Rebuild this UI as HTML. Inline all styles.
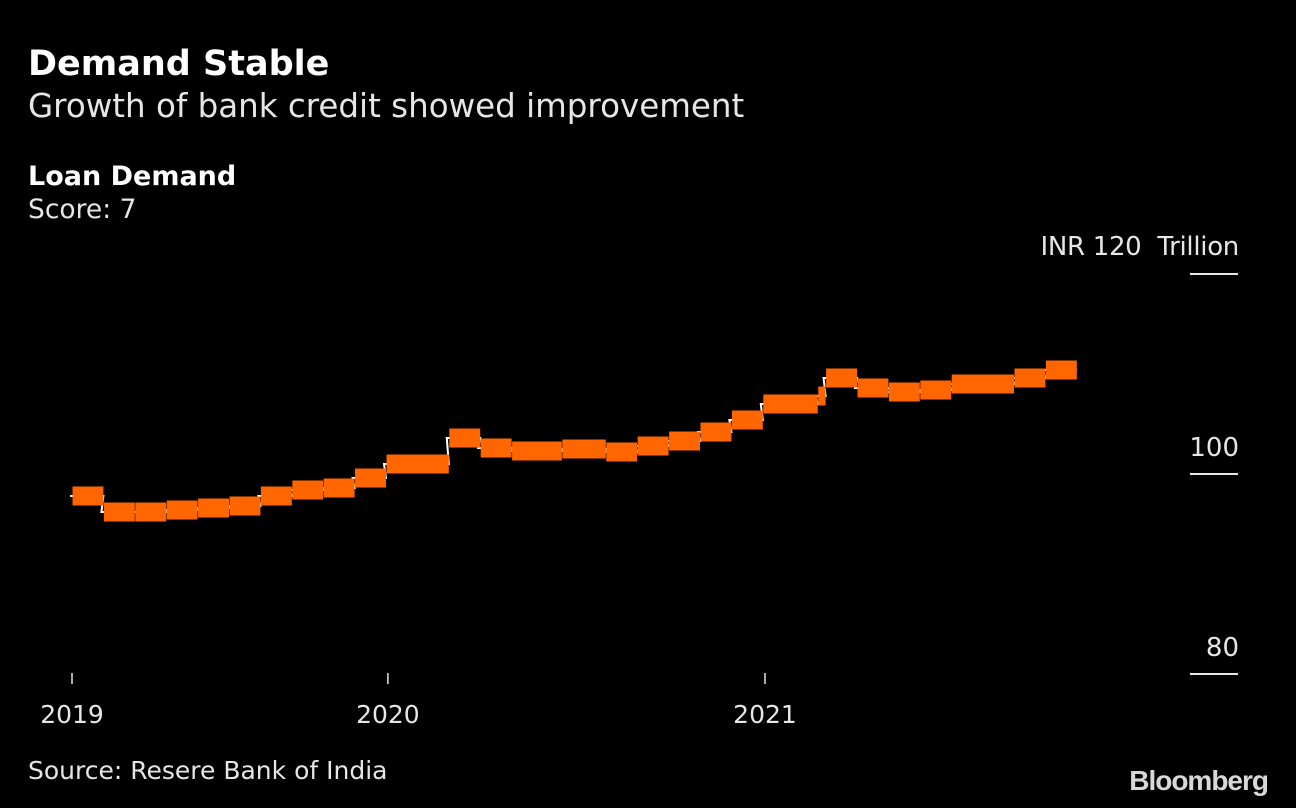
<!DOCTYPE html>
<html><head><meta charset="utf-8"><style>
html,body{margin:0;padding:0;background:#000;}
svg{display:block;}
text{font-family:"DejaVu Sans","Liberation Sans",sans-serif;fill:#e6e6e6;}
</style></head><body>
<svg id="chart" width="1296" height="808" viewBox="0 0 1296 808">
<rect width="1296" height="808" fill="#000"/>
<text x="28" y="75" font-size="35" font-weight="bold" style="fill:#fff">Demand Stable</text>
<text x="28" y="117" font-size="32.5">Growth of bank credit showed improvement</text>
<text x="28" y="185" font-size="27" font-weight="bold" style="fill:#fff">Loan Demand</text>
<text x="28" y="218" font-size="26.5">Score: 7</text>
<text x="1239" y="255" font-size="26" text-anchor="end" style="letter-spacing:-0.3px;white-space:pre">INR 120  Trillion</text>
<g id="yaxis"></g>
<g id="xaxis"></g>
<g id="series"></g>
<text x="28" y="779" font-size="25">Source: Resere Bank of India</text>
<text x="1268" y="790" font-size="28" font-weight="bold" text-anchor="end" style="fill:#d8d8d8;letter-spacing:-1px;font-family:'Liberation Sans',sans-serif">Bloomberg</text>
</svg>
<script>
const starts = [0,1,2,3,4,5,6,7,8,9,10,12,13,14,15.6,17,18,19,20,21,22,23.75,24,25,26,27,28,30,31];
const values = [97.8,96.2,96.2,96.4,96.6,96.8,97.8,98.4,98.6,99.6,101.0,103.6,102.6,102.3,102.5,102.2,102.8,103.3,104.2,105.4,107.0,107.8,109.6,108.6,108.2,108.4,109.0,109.6,110.4];
const lastEnd = 32;
const yTicks = [80,100,120];
const yTickLabels = ["80","100",""];
const xTicks = [0,10.06,22.07];
const xTickLabels = ["2019","2020","2021"];

const NS = "http://www.w3.org/2000/svg";
const x = m => 72 + m * 31.4;
const y = v => 474 - (v - 100) * 10;
function mk(tag, attrs, parent){const e=document.createElementNS(NS,tag);for(const k in attrs)e.setAttribute(k,attrs[k]);parent.appendChild(e);return e;}

const ya = document.getElementById('yaxis');
yTicks.forEach((t,i)=>{
  const l = mk('line',{x1:1190,x2:1238,y1:y(t),y2:y(t),stroke:'#e6e6e6','stroke-width':2},ya);
  
  
  if(yTickLabels[i]){
    const tx = mk('text',{x:1239,y:y(t)-18,'font-size':26,'text-anchor':'end'},ya);
    tx.textContent = yTickLabels[i];
    
    
  }
});
const xa = document.getElementById('xaxis');
xTicks.forEach((t,i)=>{
  const l = mk('line',{x1:x(t),x2:x(t),y1:673,y2:684,stroke:'#e6e6e6','stroke-width':1.5},xa);
  
  
  const tx = mk('text',{x:x(t),y:723,'font-size':25,'text-anchor':'middle'},xa);
  tx.textContent = xTickLabels[i];
  
  
});

const sg = document.getElementById('series');
let d = '';
starts.forEach((s,i)=>{
  const e = i<starts.length-1 ? starts[i+1] : lastEnd;
  d += (i===0?'M':'L') + (x(s)-2) + ' ' + y(values[i]) + ' L' + x(e) + ' ' + y(values[i]) + ' ';
});
const path = mk('path',{d:d,fill:'none',stroke:'#fff','stroke-width':2},sg);


starts.forEach((s,i)=>{
  const e = i<starts.length-1 ? starts[i+1] : lastEnd;
  const r = mk('rect',{x:x(s)+0.5,y:y(values[i])-9.5,width:x(e)-x(s)-0.5,height:19,fill:'#ff6600'},sg);
  
  
});
</script>
</body></html>
